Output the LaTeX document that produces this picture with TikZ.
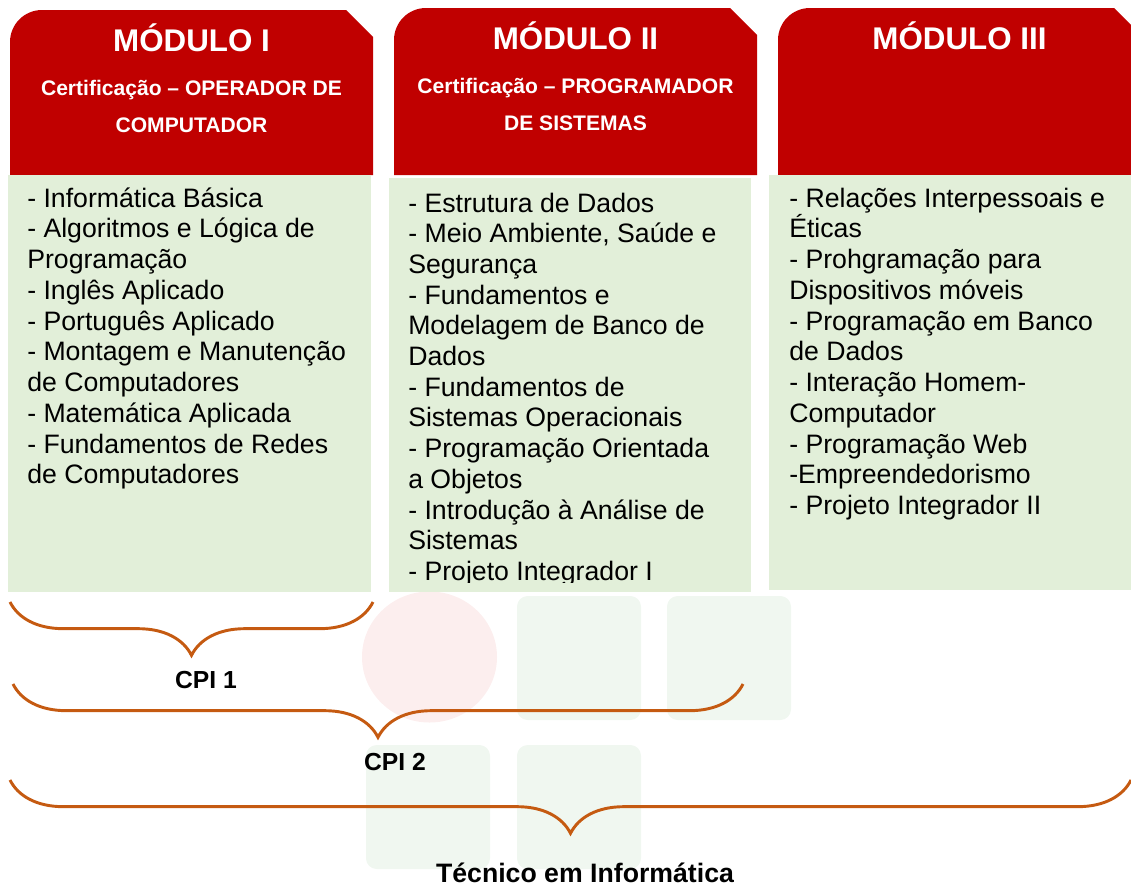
\documentclass[tikz,border=0pt]{standalone}
\usepackage{fontspec}
\setmainfont{Liberation Sans}
\usetikzlibrary{decorations.pathreplacing}
\definecolor{modred}{HTML}{C00000}
\definecolor{modgreen}{HTML}{E2EFD9}
\definecolor{braceorange}{HTML}{C55A11}
\definecolor{markpink}{HTML}{FCEEEE}
\definecolor{markgreen}{HTML}{F0F7F0}

\tikzset{
  title/.style={text=white, font=\bfseries\fontsize{23.5}{26}\selectfont, inner sep=0pt},
  subtitle/.style={text=white, font=\bfseries\fontsize{15.8}{18}\selectfont, inner sep=0pt},
  item/.style={font=\fontsize{20}{23}\selectfont, inner sep=0pt, anchor=base west},
  bracelabel/.style={font=\bfseries\fontsize{18.5}{20}\selectfont, inner sep=0pt},
  curly/.style={draw=braceorange, line width=2.2pt,
    decorate, decoration={brace, mirror, amplitude=40pt}}
}

\newcommand{\modhead}[4]{% x, y top, name, text
  \fill[modred] (#1,175) [rounded corners=24] -- (#1,#2) [sharp corners]
    -- (#1+336,#2) -- (#1+363,#2+27) -- (#1+363,175) -- cycle;
  \node[title, anchor=base] (#3) at (#1+181.5,#2+41) {#4};
}

\begin{document}
\begin{tikzpicture}[x=0.75pt, y=-0.75pt]
\useasboundingbox (0,0) rectangle (1131,886);

% watermark
\fill[markpink] (429.5,657) ellipse (67.5 and 65.5);
\foreach \x/\y in {517/596, 667/596, 366/745, 517/745}
  \fill[markgreen, rounded corners=8] (\x,\y) rectangle (\x+124,\y+124);

% module headers
\begin{scope}
\clip (0,0) rectangle (1131,886);
\modhead{10}{10}{m1}{MÓDULO I}
\modhead{394}{8}{m2}{MÓDULO II}
\modhead{778}{8}{m3}{MÓDULO III}

% module bodies
\fill[modgreen] (8,175) rectangle (371,592);
\fill[modgreen] (389,178) rectangle (751,592);
\fill[modgreen] (769,175) rectangle (1141,590);
\end{scope}

\node[subtitle, anchor=base] (c1a) at (191.5,95) {Certificação – OPERADOR DE};
\node[subtitle, anchor=base] (c1b) at (191.5,132) {COMPUTADOR};
\node[subtitle, anchor=base] (c2a) at (575.5,93) {Certificação – PROGRAMADOR};
\node[subtitle, anchor=base] (c2b) at (575.5,130) {DE SISTEMAS};

\foreach \t [count=\i] in {
    - Informática Básica, - Algoritmos e Lógica de, Programação,
    - Inglês Aplicado, - Português Aplicado, - Montagem e Manutenção,
    de Computadores, - Matemática Aplicada, - Fundamentos de Redes,
    de Computadores}
  \node[item] (a\i) at (27,207+30.75*\i-30.75) {\t};

\begin{scope}
\clip (389,178) rectangle (751,582);
\foreach \t [count=\i] in {
    - Estrutura de Dados, {- Meio Ambiente, Saúde e}, Segurança,
    - Fundamentos e, Modelagem de Banco de, Dados,
    - Fundamentos de, Sistemas Operacionais, - Programação Orientada,
    a Objetos, - Introdução à Análise de, Sistemas, - Projeto Integrador I}
  \node[item] (b\i) at (408,212+30.7*\i-30.7) {\t};
\end{scope}

\foreach \t [count=\i] in {
    - Relações Interpessoais e, Éticas, - Prohgramação para,
    Dispositivos móveis, - Programação em Banco, de Dados,
    - Interação Homem-, Computador, - Programação Web,
    -Empreendedorismo, - Projeto Integrador II}
  \node[item] (c\i) at (789,207+30.75*\i-30.75) {\t};

% braces
\coordinate (p1) at (10,602);
\coordinate (q1) at (373,602);
\coordinate (p2) at (13,684);
\coordinate (q2) at (743,684);
\coordinate (p3) at (10,780);
\coordinate (q3) at (1131,780);
\draw[curly] (p1) -- (q1);
\draw[curly] (p2) -- (q2);
\draw[curly] (p3) -- (q3);

\node[bracelabel] (cpi1) at (206,680) {CPI 1};
\node[bracelabel] (cpi2) at (395,762) {CPI 2};
\node[bracelabel, font=\bfseries\fontsize{20}{22}\selectfont] (tec) at (585,873) {Técnico em Informática};

\end{tikzpicture}
\end{document}
